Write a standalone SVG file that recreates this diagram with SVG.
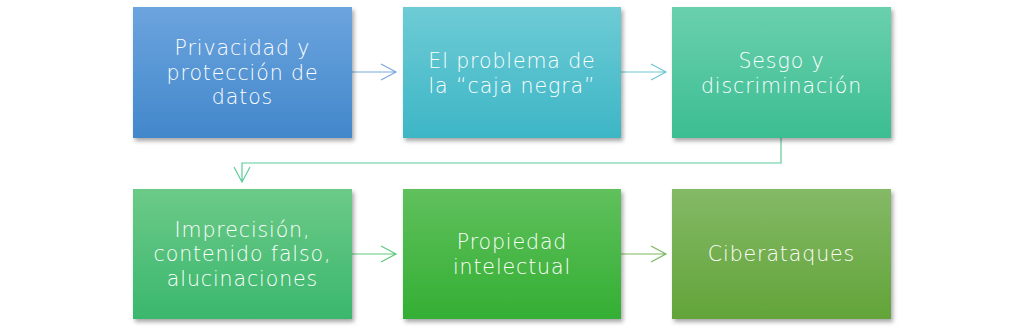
<svg xmlns="http://www.w3.org/2000/svg" width="1024" height="334" viewBox="0 0 1024 334">
<style>
.t{font-family:"DejaVu Sans","Liberation Sans",sans-serif;font-size:20.5px;font-weight:300;fill:#fff;text-anchor:middle;letter-spacing:0.9px}
.c{fill:none;stroke-width:1.2}
</style>
<defs>
<filter id="sh" x="-10%" y="-10%" width="125%" height="130%">
<feDropShadow dx="2" dy="3" stdDeviation="2" flood-color="#000" flood-opacity="0.35"/>
</filter>
<linearGradient id="g1" x1="0" y1="0" x2="0" y2="1"><stop offset="0" stop-color="#6ca4de"/><stop offset="1" stop-color="#4287cb"/></linearGradient>
<linearGradient id="g2" x1="0" y1="0" x2="0" y2="1"><stop offset="0" stop-color="#6ecbd5"/><stop offset="1" stop-color="#3db6c6"/></linearGradient>
<linearGradient id="g3" x1="0" y1="0" x2="0" y2="1"><stop offset="0" stop-color="#6ad0ae"/><stop offset="1" stop-color="#3cbd92"/></linearGradient>
<linearGradient id="g4" x1="0" y1="0" x2="0" y2="1"><stop offset="0" stop-color="#6cca88"/><stop offset="1" stop-color="#3ab76d"/></linearGradient>
<linearGradient id="g5" x1="0" y1="0" x2="0" y2="1"><stop offset="0" stop-color="#60c05c"/><stop offset="1" stop-color="#34af34"/></linearGradient>
<linearGradient id="g6" x1="0" y1="0" x2="0" y2="1"><stop offset="0" stop-color="#84b966"/><stop offset="1" stop-color="#62a439"/></linearGradient>
</defs>
<g id="connectors">
<path class="c" stroke="#7aa8dc" d="M352 72H396M381 64L396 72L381 80"/>
<path class="c" stroke="#6cc8d2" d="M621 72H666M651 64L666 72L651 80"/>
<path class="c" stroke="#5ccc9a" d="M781 138V163H242V182M234 167L242 182L250 167"/>
<path class="c" stroke="#5ec97e" d="M352 254H396M381 246L396 254L381 262"/>
<path class="c" stroke="#7ab860" d="M621 254H666M651 246L666 254L651 262"/>
</g>
<g id="n1"><rect x="133" y="7" width="219" height="131" fill="url(#g1)" filter="url(#sh)"/>
<text class="t"><tspan x="242.5" y="55">Privacidad y</tspan><tspan x="242.5" y="79.5">protección de</tspan><tspan x="242.5" y="104">datos</tspan></text></g>
<g id="n2"><rect x="403" y="7" width="218" height="131" fill="url(#g2)" filter="url(#sh)"/>
<text class="t"><tspan x="512" y="68">El problema de</tspan><tspan x="512" y="92.5">la “caja negra”</tspan></text></g>
<g id="n3"><rect x="672" y="7" width="219" height="131" fill="url(#g3)" filter="url(#sh)"/>
<text class="t"><tspan x="781.5" y="68">Sesgo y</tspan><tspan x="781.5" y="92.5">discriminación</tspan></text></g>
<g id="n4"><rect x="133" y="189" width="219" height="130" fill="url(#g4)" filter="url(#sh)"/>
<text class="t"><tspan x="242.5" y="237">Imprecisión,</tspan><tspan x="242.5" y="261">contenido falso,</tspan><tspan x="242.5" y="285.5">alucinaciones</tspan></text></g>
<g id="n5"><rect x="403" y="189" width="218" height="130" fill="url(#g5)" filter="url(#sh)"/>
<text class="t"><tspan x="512" y="249">Propiedad</tspan><tspan x="512" y="273.5">intelectual</tspan></text></g>
<g id="n6"><rect x="672" y="189" width="219" height="130" fill="url(#g6)" filter="url(#sh)"/>
<text class="t"><tspan x="781.5" y="261">Ciberataques</tspan></text></g>
</svg>
